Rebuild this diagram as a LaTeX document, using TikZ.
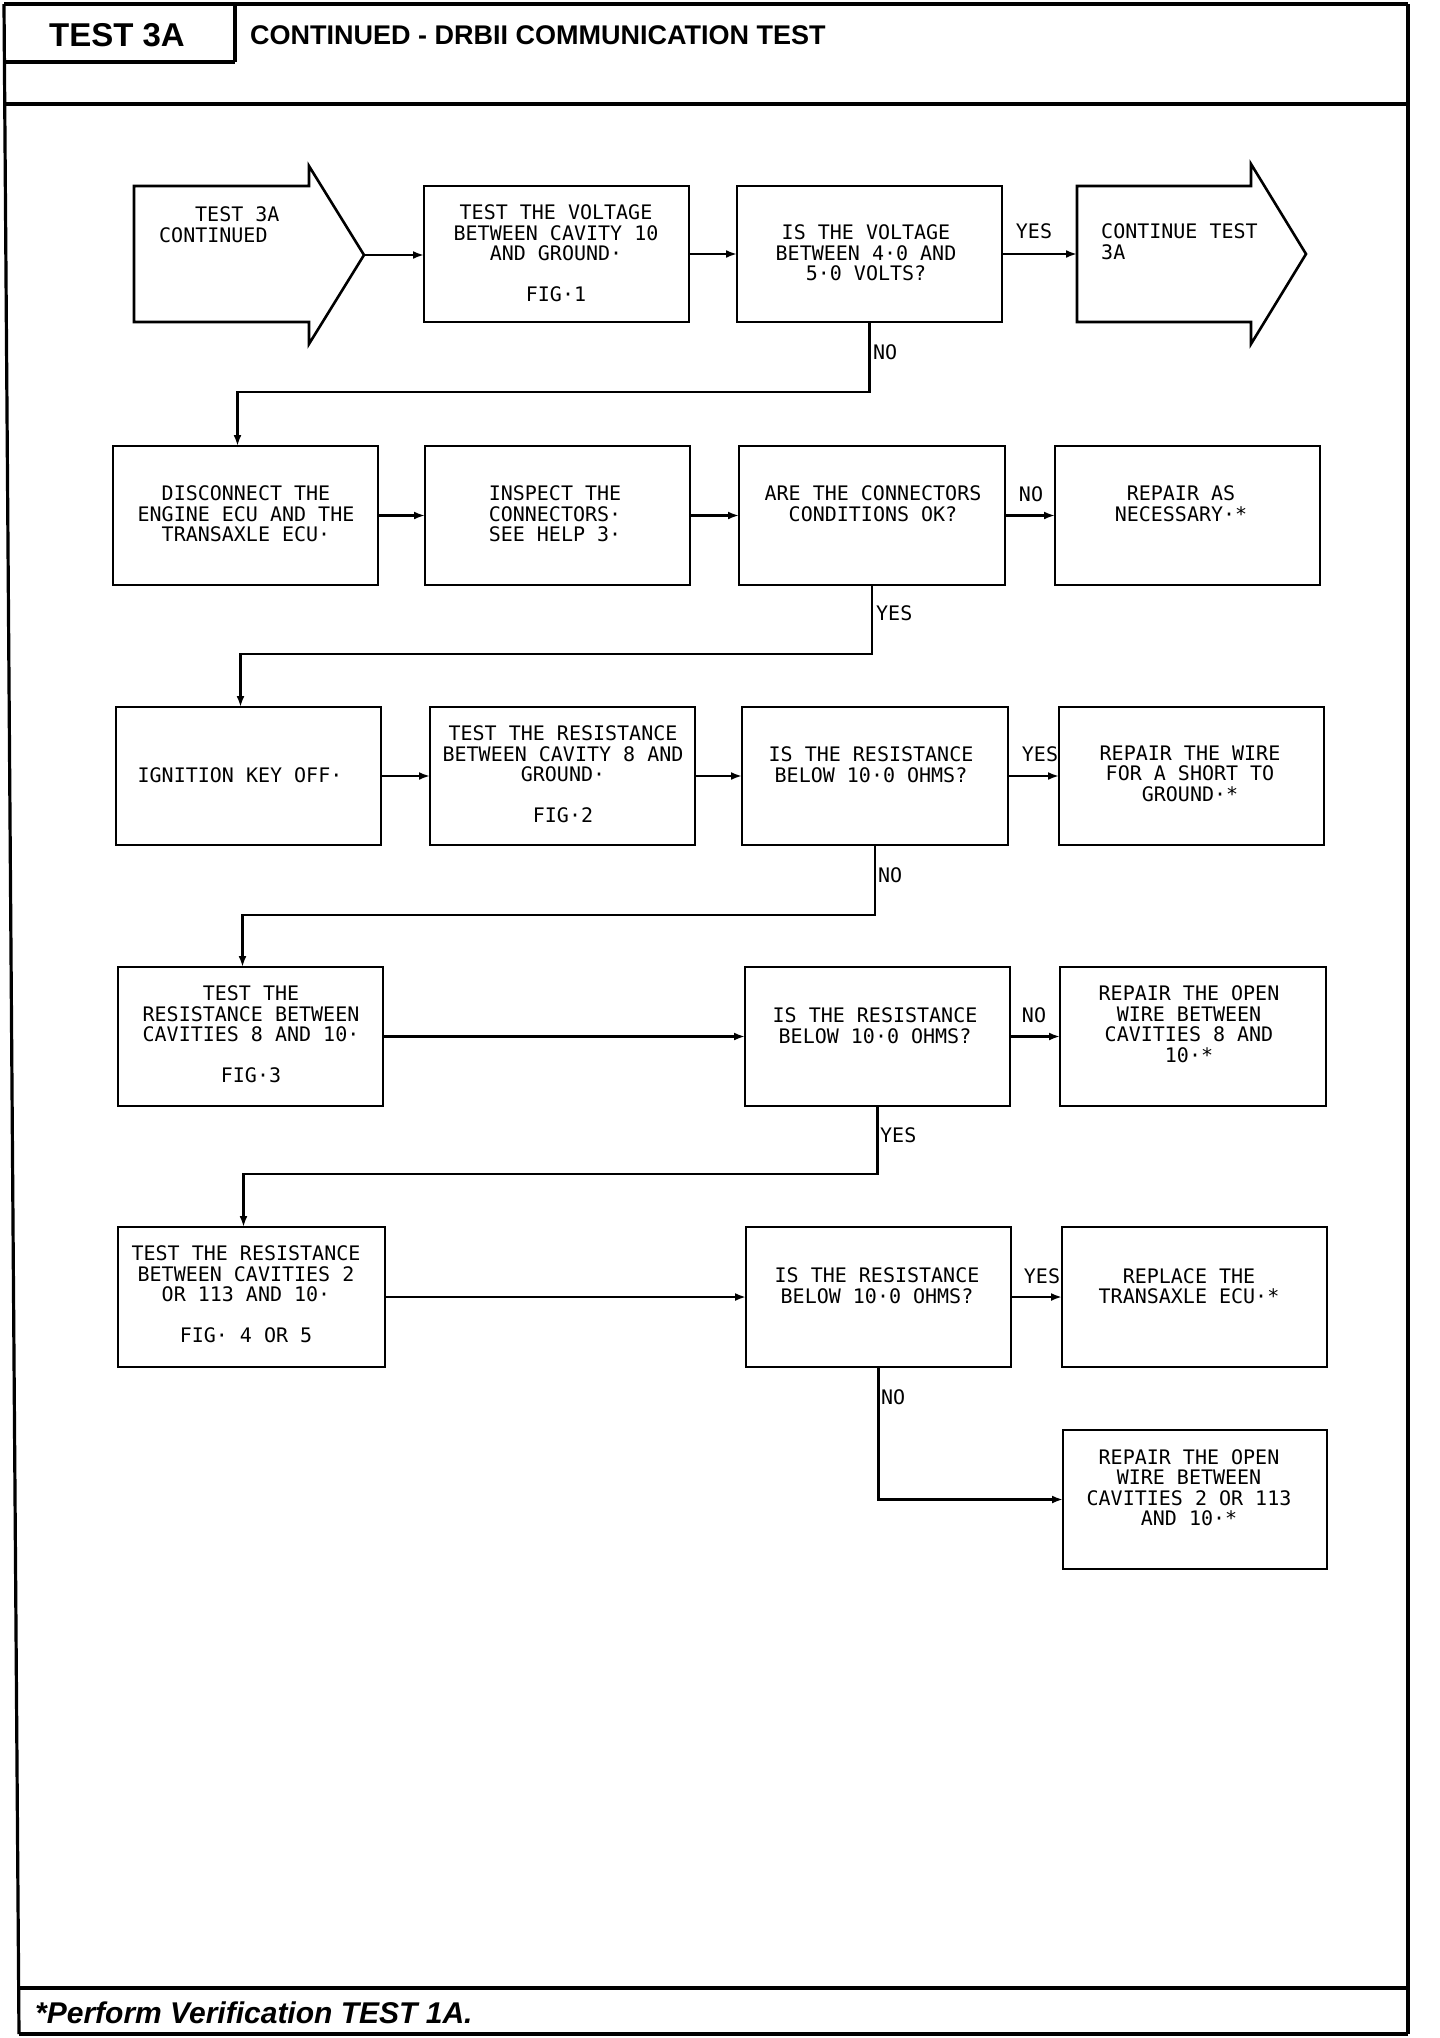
\documentclass[tikz,border=0pt]{standalone}
\usepackage{fontspec}
\setmainfont{Liberation Sans}
\newfontfamily\plotfont{DejaVu Sans Mono}
\usetikzlibrary{arrows.meta,fit}
\begin{document}
\begin{tikzpicture}[x=1pt,y=-1pt,
  frame/.style={line width=3.2pt},
  box/.style={draw, line width=2.6pt, inner sep=0pt, outer sep=0pt},
  txt/.style={font=\plotfont\fontsize{20}{20.5}\selectfont, align=center, inner sep=0pt},
  conn/.style={line width=2.4pt, -{Latex[length=11pt,width=8pt]}},
  arrowbox/.style={line width=2.6pt, line join=miter}]
\useasboundingbox (0,0) rectangle (1440,2038);
% frame
\draw[frame] (4,4) -- (1408,4);
\draw[frame] (4,4) -- (19,2034);
\draw[frame] (1408,4) -- (1408,2034);
\draw[frame] (19,2034) -- (1408,2034);
\draw[frame] (235,4) -- (235,62);
\draw[frame] (4.4,62) -- (235,62);
\draw[frame] (4.7,104) -- (1408,104);
\draw[frame] (18.7,1988) -- (1408,1988);
\node[font=\bfseries\fontsize{33}{33}\selectfont, inner sep=0pt] (t3a) at (117,35) {TEST 3A};
\node[anchor=west, font=\bfseries\fontsize{27}{27}\selectfont, inner sep=0pt] (title) at (250,35) {CONTINUED - DRBII COMMUNICATION TEST};
\node[anchor=west, font=\bfseries\itshape\fontsize{30}{30}\selectfont, inner sep=0pt] (foot) at (35,2013) {*Perform Verification TEST 1A.};

% row 1
\draw[arrowbox] (134,186) -- (309,186) -- (309,166) -- (364,255) -- (309,344) -- (309,322) -- (134,322) -- cycle;
\coordinate (starttip) at (364,255);
\node[txt, align=left, anchor=west] (starttxt) at (159,224.5) {\hspace*{36pt}TEST 3A\\CONTINUED};
\node[box, fit={(424,186) (689,322)}] (b2) {};
\node[txt] (b2t) at (556,233) {TEST THE VOLTAGE\\BETWEEN CAVITY 10\\AND GROUND·};
\node[txt] (b2f) at (556,294) {FIG·1};
\node[box, fit={(737,186) (1002,322)}] (b3) {};
\node[txt] (b3t) at (866,253) {IS THE VOLTAGE\\BETWEEN 4·0 AND\\5·0 VOLTS?};
\draw[arrowbox] (1077,186) -- (1251,186) -- (1251,164) -- (1306,254) -- (1251,344) -- (1251,322) -- (1077,322) -- cycle;
\coordinate (contin) at (1077,254);
\node[txt, align=left, anchor=west] (conttxt) at (1101,241.5) {CONTINUE TEST\\3A};
\node[txt] (yes1) at (1034,231) {YES};
\node[txt, anchor=west] (no1) at (873,352) {NO};

% row 2
\node[box, fit={(113,446) (378,585)}] (b4) {};
\node[txt] (b4t) at (246,514) {DISCONNECT THE\\ENGINE ECU AND THE\\TRANSAXLE ECU·};
\node[box, fit={(425,446) (690,585)}] (b5) {};
\node[txt] (b5t) at (555,514) {INSPECT THE\\CONNECTORS·\\SEE HELP 3·};
\node[box, fit={(739,446) (1005,585)}] (b6) {};
\node[txt] (b6t) at (873,503.5) {ARE THE CONNECTORS\\CONDITIONS OK?};
\node[box, fit={(1055,446) (1320,585)}] (b7) {};
\node[txt] (b7t) at (1181,503.5) {REPAIR AS\\NECESSARY·*};
\node[txt] (no2) at (1031,494) {NO};
\node[txt, anchor=west] (yes2) at (876,613) {YES};

% row 3
\node[box, fit={(116,707) (381,845)}] (b8) {};
\node[txt] (b8t) at (240,775) {IGNITION KEY OFF·};
\node[box, fit={(430,707) (695,845)}] (b9) {};
\node[txt] (b9t) at (563,754) {TEST THE RESISTANCE\\BETWEEN CAVITY 8 AND\\GROUND·};
\node[txt] (b9f) at (563,815) {FIG·2};
\node[box, fit={(742,707) (1008,845)}] (b10) {};
\node[txt] (b10t) at (871,764.5) {IS THE RESISTANCE\\BELOW 10·0 OHMS?};
\node[box, fit={(1059,707) (1324,845)}] (b11) {};
\node[txt] (b11t) at (1190,773.5) {REPAIR THE WIRE\\FOR A SHORT TO\\GROUND·*};
\node[txt] (yes3) at (1040,754) {YES};
\node[txt, anchor=west] (no3) at (878,875) {NO};

% row 4
\node[box, fit={(118,967) (383,1106)}] (b12) {};
\node[txt] (b12t) at (251,1014) {TEST THE\\RESISTANCE BETWEEN\\CAVITIES 8 AND 10·};
\node[txt] (b12f) at (251,1075) {FIG·3};
\node[box, fit={(745,967) (1010,1106)}] (b13) {};
\node[txt] (b13t) at (875,1025.5) {IS THE RESISTANCE\\BELOW 10·0 OHMS?};
\node[box, fit={(1060,967) (1326,1106)}] (b14) {};
\node[txt] (b14t) at (1189,1024) {REPAIR THE OPEN\\WIRE BETWEEN\\CAVITIES 8 AND\\10·*};
\node[txt] (no4) at (1034,1015) {NO};
\node[txt, anchor=west] (yes4) at (880,1135) {YES};

% row 5
\node[box, fit={(118,1227) (385,1367)}] (b15) {};
\node[txt] (b15t) at (246,1274) {TEST THE RESISTANCE\\BETWEEN CAVITIES 2\\OR 113 AND 10·};
\node[txt] (b15f) at (246,1335) {FIG· 4 OR 5};
\node[box, fit={(746,1227) (1011,1367)}] (b16) {};
\node[txt] (b16t) at (877,1285.5) {IS THE RESISTANCE\\BELOW 10·0 OHMS?};
\node[box, fit={(1062,1227) (1327,1367)}] (b17) {};
\node[txt] (b17t) at (1189,1286) {REPLACE THE\\TRANSAXLE ECU·*};
\node[txt] (yes5) at (1042,1276) {YES};
\node[txt, anchor=west] (no5) at (881,1397) {NO};
\node[box, fit={(1063,1430) (1327,1569)}] (b18) {};
\node[txt] (b18t) at (1189,1487.5) {REPAIR THE OPEN\\WIRE BETWEEN\\CAVITIES 2 OR 113\\AND 10·*};

% connectors
\draw[conn] (starttip) -- (starttip -| b2.west);
\draw[conn] (b2.east) -- (b2.east -| b3.west);
\draw[conn] (b3.east) -- (contin);
\draw[conn] (b3.south) -- (b3.south |- 0,392) -| ([xshift=-8]b4.north);
\draw[conn] (b4.east) -- (b4.east -| b5.west);
\draw[conn] (b5.east) -- (b5.east -| b6.west);
\draw[conn] (b6.east) -- (b6.east -| b7.west);
\draw[conn] (b6.south) -- (b6.south |- 0,654) -| ([xshift=-8]b8.north);
\draw[conn] (b8.east) -- (b8.east -| b9.west);
\draw[conn] (b9.east) -- (b9.east -| b10.west);
\draw[conn] (b10.east) -- (b10.east -| b11.west);
\draw[conn] (b10.south) -- (b10.south |- 0,915) -| ([xshift=-8]b12.north);
\draw[conn] (b12.east) -- (b12.east -| b13.west);
\draw[conn] (b13.east) -- (b13.east -| b14.west);
\draw[conn] (b13.south) -- (b13.south |- 0,1174) -| ([xshift=-8]b15.north);
\draw[conn] (b15.east) -- (b15.east -| b16.west);
\draw[conn] (b16.east) -- (b16.east -| b17.west);
\draw[conn] (b16.south) |- (b18.west);
\end{tikzpicture}
\end{document}
